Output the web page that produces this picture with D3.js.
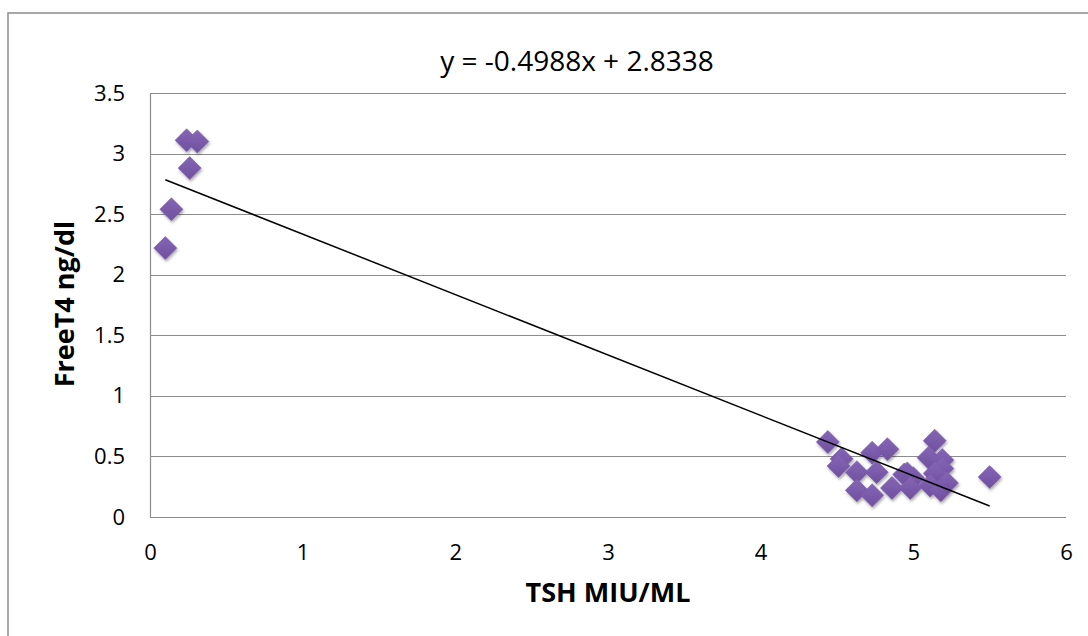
<!DOCTYPE html>
<html><head><meta charset="utf-8">
<script src="https://cdn.jsdelivr.net/npm/d3@7"></script>
<style>body{margin:0;background:#fff}svg{display:block}text{font-family:"Open Sans","Liberation Sans",sans-serif;fill:#000}</style>
</head><body><svg id="c" width="1088" height="636"></svg>
<script>
const tshValues = [0.24,0.31,0.26,0.14,0.10,
 4.44,4.53,4.51,4.63,4.73,4.83,4.76,4.63,4.73,4.86,4.94,5.00,
 5.14,5.10,5.19,5.19,5.14,4.96,5.11,5.18,5.22,5.50,4.98];
const ft4Values = [3.11,3.10,2.88,2.54,2.22,
 0.62,0.48,0.42,0.37,0.53,0.56,0.37,0.22,0.18,0.24,0.35,0.32,
 0.63,0.49,0.47,0.40,0.36,0.36,0.26,0.22,0.28,0.33,0.24];
const xTicks = [0,1,2,3,4,5,6];
const yTicks = [0,0.5,1,1.5,2,2.5,3,3.5];
const slope = -0.4988, intercept = 2.8338;
const trendLabel = "y = -0.4988x + 2.8338";
const xTitle = "TSH MIU/ML", yTitle = "FreeT4 ng/dl";

const svg = d3.select("#c");
const L=150,R=1066,T=93,B=517;
const x = d3.scaleLinear().domain([0,6]).range([L,R]);
const y = d3.scaleLinear().domain([0,3.5]).range([B,T]);

const defs = svg.append("defs");
const f = defs.append("filter").attr("id","sh").attr("x","-50%").attr("y","-50%").attr("width","200%").attr("height","200%");
f.append("feDropShadow").attr("dx",1).attr("dy",2).attr("stdDeviation",1.5).attr("flood-color","#000").attr("flood-opacity",0.35);
const g = defs.append("linearGradient").attr("id","dg").attr("x1",0).attr("y1",0).attr("x2",0).attr("y2",1);
g.append("stop").attr("offset","0%").attr("stop-color","#8565b6");
g.append("stop").attr("offset","100%").attr("stop-color","#6f509e");

svg.append("rect").attr("x",8).attr("y",13).attr("width",1100).attr("height",640)
  .attr("fill","none").attr("stroke","#8c8c8c").attr("stroke-width",1.5);

svg.append("g").selectAll("line").data(yTicks).join("line")
  .attr("x1",L).attr("x2",R).attr("y1",d=>Math.round(y(d))+0.5).attr("y2",d=>Math.round(y(d))+0.5)
  .attr("stroke","#8c8c8c").attr("stroke-width",1.2);
svg.append("line").attr("x1",L+0.5).attr("x2",L+0.5).attr("y1",T).attr("y2",B+1)
  .attr("stroke","#8c8c8c").attr("stroke-width",1.2);

const yAx = svg.append("g").attr("transform",`translate(${L},0)`)
  .call(d3.axisLeft(y).tickValues(yTicks).tickSize(0).tickPadding(25).tickFormat(d3.format("")));
yAx.select(".domain").remove();
yAx.selectAll("text").attr("font-size",22);
const xAx = svg.append("g").attr("transform",`translate(0,${B})`)
  .call(d3.axisBottom(x).tickValues(xTicks).tickSize(0).tickPadding(27).tickFormat(d3.format("")));
xAx.select(".domain").remove();
xAx.selectAll("text").attr("font-size",22);

const data = tshValues.map((v,i)=>({x:v,y:ft4Values[i]}));
const s=11.5;
svg.append("g").attr("filter","url(#sh)").selectAll("path").data(data).join("path")
  .attr("d",d=>`M${x(d.x)},${y(d.y)-s}L${x(d.x)+s},${y(d.y)}L${x(d.x)},${y(d.y)+s}L${x(d.x)-s},${y(d.y)}Z`)
  .attr("fill","url(#dg)").attr("stroke","#7a5aa8").attr("stroke-width",0.6);

const xmin=d3.min(tshValues), xmax=d3.max(tshValues);
svg.append("line").attr("x1",x(xmin)).attr("y1",y(slope*xmin+intercept))
  .attr("x2",x(xmax)).attr("y2",y(slope*xmax+intercept)).attr("stroke","#000").attr("stroke-width",1.5);

svg.append("text").attr("x",577).attr("y",71).attr("text-anchor","middle").attr("font-size",28).text(trendLabel);
svg.append("text").attr("x",608).attr("y",602).attr("text-anchor","middle").attr("font-size",27).attr("font-weight","bold").text(xTitle);
svg.append("text").attr("transform","translate(74,304) rotate(-90)").attr("text-anchor","middle").attr("font-size",27).attr("font-weight","bold").text(yTitle);
</script></body></html>
